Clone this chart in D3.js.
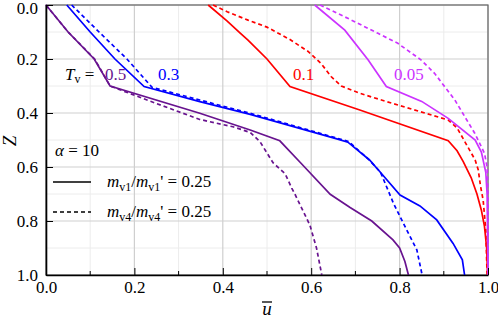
<!DOCTYPE html>
<html>
<head>
<meta charset="utf-8">
<script src="https://cdn.jsdelivr.net/npm/d3@7"></script>
<style>
  body { margin: 0; background: #fff; }
</style>
</head>
<body>
<div id="chart"></div>
<script>
// curves: [u, Z]
var purpleSolid = [[0,0],[0.05,0.1],[0.109,0.2],[0.145,0.3],[0.348,0.401],[0.462,0.463],[0.529,0.503],[0.577,0.586],[0.643,0.701],[0.688,0.75],[0.737,0.8],[0.785,0.87],[0.80,0.9],[0.812,0.95],[0.82,1.0]];
var purpleDash  = [[0,0],[0.05,0.1],[0.11,0.2],[0.145,0.3],[0.25,0.365],[0.348,0.424],[0.423,0.451],[0.462,0.472],[0.484,0.506],[0.514,0.585],[0.541,0.625],[0.556,0.678],[0.563,0.70],[0.597,0.815],[0.612,0.9],[0.624,1.0]];
var blueSolid   = [[0.047,0],[0.10,0.1],[0.156,0.2],[0.222,0.302],[0.348,0.358],[0.462,0.405],[0.66,0.497],[0.683,0.508],[0.732,0.574],[0.752,0.611],[0.801,0.704],[0.846,0.744],[0.884,0.796],[0.921,0.883],[0.942,0.944],[0.947,1.0]];
var blueDash    = [[0.058,0],[0.12,0.1],[0.183,0.2],[0.24,0.305],[0.348,0.352],[0.462,0.401],[0.66,0.494],[0.685,0.506],[0.732,0.575],[0.757,0.62],[0.786,0.734],[0.816,0.833],[0.839,0.907],[0.851,1.0]];
var redSolid    = [[0.367,0],[0.41,0.06],[0.44,0.105],[0.457,0.13],[0.50,0.20],[0.552,0.302],[0.71,0.389],[0.91,0.503],[0.93,0.54],[0.944,0.58],[0.962,0.64],[0.975,0.70],[0.985,0.76],[0.992,0.82],[0.997,0.9],[0.999,1.0]];
var redDash     = [[0.378,0],[0.41,0.025],[0.457,0.056],[0.50,0.082],[0.552,0.128],[0.593,0.172],[0.623,0.218],[0.645,0.265],[0.668,0.30],[0.71,0.327],[0.759,0.352],[0.91,0.426],[0.93,0.455],[0.952,0.519],[0.971,0.574],[0.978,0.611],[0.983,0.67],[0.989,0.722],[0.995,0.833],[0.998,1.0]];
var magSolid    = [[0.608,0],[0.676,0.093],[0.729,0.204],[0.77,0.302],[0.85,0.357],[0.91,0.42],[0.971,0.5],[0.985,0.545],[0.995,0.62],[0.998,0.7],[1.0,1.0]];
var magDash     = [[0.62,0],[0.69,0.055],[0.751,0.105],[0.796,0.142],[0.849,0.204],[0.879,0.253],[0.925,0.352],[0.97,0.475],[0.992,0.549],[0.998,0.6],[1.0,0.7],[1.0,1.0]];

var series = [
  {data: purpleSolid, color: "#68138f", dash: null},
  {data: purpleDash,  color: "#68138f", dash: "4,3"},
  {data: blueSolid,   color: "#0000ff", dash: null},
  {data: blueDash,    color: "#0000ff", dash: "4,3"},
  {data: redSolid,    color: "#ff0000", dash: null},
  {data: redDash,     color: "#ff0000", dash: "4,3"},
  {data: magSolid,    color: "#cc33ff", dash: null},
  {data: magDash,     color: "#cc33ff", dash: "4,3"}
];

var majorTicks = [0, 0.2, 0.4, 0.6, 0.8, 1.0];
var minorTicks = [0.1, 0.3, 0.5, 0.7, 0.9];

const W = 498, H = 319;
const margin = {top: 5, right: 10, bottom: 44, left: 46};
const width = W - margin.left - margin.right,
      height = H - margin.top - margin.bottom;

const svg = d3.select("#chart").append("svg")
    .attr("width", W).attr("height", H);
const g = svg.append("g")
    .attr("transform", `translate(${margin.left},${margin.top})`);

const x = d3.scaleLinear().domain([0, 1]).range([0, width]);
const y = d3.scaleLinear().domain([0, 1]).range([0, height]);

// grid
g.selectAll(".gminx").data(minorTicks).join("line")
  .attr("x1", d => x(d)).attr("x2", d => x(d)).attr("y1", 0).attr("y2", height)
  .attr("stroke", "#ececec").attr("stroke-width", 1);
g.selectAll(".gminy").data(minorTicks).join("line")
  .attr("y1", d => y(d)).attr("y2", d => y(d)).attr("x1", 0).attr("x2", width)
  .attr("stroke", "#ececec").attr("stroke-width", 1);
g.selectAll(".gmajx").data(majorTicks).join("line")
  .attr("x1", d => x(d)).attr("x2", d => x(d)).attr("y1", 0).attr("y2", height)
  .attr("stroke", "#cfcfcf").attr("stroke-width", 1.2);
g.selectAll(".gmajy").data(majorTicks).join("line")
  .attr("y1", d => y(d)).attr("y2", d => y(d)).attr("x1", 0).attr("x2", width)
  .attr("stroke", "#cfcfcf").attr("stroke-width", 1.2);

// frame
g.append("rect").attr("width", width).attr("height", height)
  .attr("fill", "none").attr("stroke", "#666").attr("stroke-width", 1.2);

// curves
const line = d3.line().x(d => x(d[0])).y(d => y(d[1]));
g.selectAll(".curve").data(series).join("path")
  .attr("class", "curve")
  .attr("d", d => line(d.data))
  .attr("fill", "none")
  .attr("stroke", d => d.color)
  .attr("stroke-width", 1.7)
  .attr("stroke-dasharray", d => d.dash);

// axes
const xAxis = d3.axisBottom(x).tickValues(majorTicks).tickFormat(d3.format(".1f"))
  .tickSizeInner(-7).tickSizeOuter(0).tickPadding(6);
const gx = g.append("g").attr("transform", `translate(0,${height})`).call(xAxis);
gx.selectAll(".minor").data(minorTicks).join("line")
  .attr("x1", d => x(d)).attr("x2", d => x(d)).attr("y1", 0).attr("y2", -4)
  .attr("stroke", "#000");

const yAxis = d3.axisLeft(y).tickValues(majorTicks).tickFormat(d3.format(".1f"))
  .tickSizeInner(-7).tickSizeOuter(0).tickPadding(8);
const gy = g.append("g").call(yAxis);

[gx, gy].forEach(a => {
  a.attr("font-size", 17);
  a.select(".domain").attr("stroke", "#000").attr("stroke-width", 1.6);
  a.selectAll(".tick line").attr("stroke", "#000");
  a.selectAll("text").attr("fill", "#000");
});
gy.selectAll(".tick").filter(d => d === 0).select("text").attr("dy", "0.5em");

// axis titles
svg.append("text").attr("x", 267).attr("y", 315)
  .attr("font-size", 19).attr("font-style", "italic").attr("text-anchor", "middle").text("u");
svg.append("line").attr("x1", 262).attr("x2", 272).attr("y1", 302).attr("y2", 302)
  .attr("stroke", "#000").attr("stroke-width", 1.3);
svg.append("text").attr("transform", "translate(16,141) rotate(-90)")
  .attr("font-size", 19).attr("font-style", "italic").attr("text-anchor", "middle").text("Z");

// curve labels
const tv = svg.append("text").attr("x", 65).attr("y", 80).attr("font-size", 17);
tv.append("tspan").attr("font-style", "italic").text("T");
tv.append("tspan").attr("font-size", 12).attr("dy", 3).text("v");
tv.append("tspan").attr("dy", -3).text(" =");
svg.append("text").attr("x", 105).attr("y", 80).attr("font-size", 17).attr("fill", "#68138f").text("0.5");
svg.append("text").attr("x", 158).attr("y", 80).attr("font-size", 17).attr("fill", "#0000ff").text("0.3");
svg.append("text").attr("x", 293).attr("y", 80).attr("font-size", 17).attr("fill", "#ff0000").text("0.1");
svg.append("text").attr("x", 394).attr("y", 80).attr("font-size", 17).attr("fill", "#cc33ff").text("0.05");

// legend
const al = svg.append("text").attr("x", 55).attr("y", 156).attr("font-size", 17);
al.append("tspan").attr("font-style", "italic").text("α");
al.append("tspan").text(" = 10");

const legendItems = [
  {sub: "v1", dash: null, y: 182},
  {sub: "v4", dash: "4,3", y: 212}
];
legendItems.forEach(it => {
  svg.append("line").attr("x1", 53).attr("x2", 91).attr("y1", it.y).attr("y2", it.y)
    .attr("stroke", "#000").attr("stroke-width", 1.7).attr("stroke-dasharray", it.dash);
  const t = svg.append("text").attr("x", 107).attr("y", it.y + 5).attr("font-size", 17);
  t.append("tspan").attr("font-style", "italic").text("m");
  t.append("tspan").attr("font-size", 12).attr("dy", 4).text(it.sub);
  t.append("tspan").attr("dy", -4).text("/");
  t.append("tspan").attr("font-style", "italic").text("m");
  t.append("tspan").attr("font-size", 12).attr("dy", 4).text(it.sub);
  t.append("tspan").attr("dy", -4).text("' = 0.25");
});

// serif everywhere
svg.selectAll("text").style("font-family", "Liberation Serif");
</script>
</body>
</html>
